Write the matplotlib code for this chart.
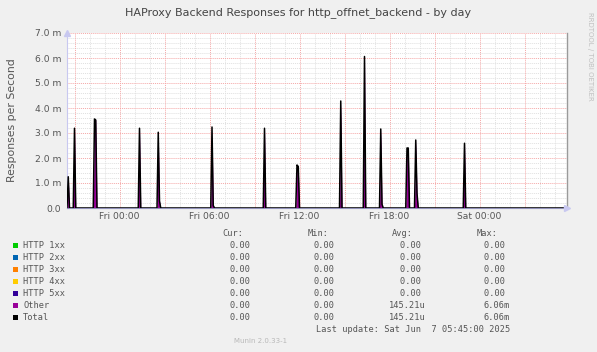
#!/usr/bin/env python3
import matplotlib
matplotlib.use('Agg')
import matplotlib.pyplot as plt
import numpy as np

# hours relative to Fri 00:00, 5 minute samples (values in milli responses/s)
spike_hours = [-3.4167, -3.0, -1.6667, -1.5833, 1.3333, 2.5833, 2.6667,
               6.1667, 6.25, 9.6667, 11.8333, 11.9167, 14.75, 16.3333,
               17.4167, 17.5, 19.1667, 19.25, 19.75, 19.8333, 23.0]
other_vals = [1.25, 3.19, 3.56, 3.52, 3.19, 3.03, 0.28,
              3.24, 0.10, 3.19, 1.72, 1.66, 4.28, 6.06,
              3.16, 0.15, 2.40, 2.40, 2.72, 0.59, 2.59]
total_vals = list(other_vals)

t_start = -3.5
t_end = 29.8333
step = 5.0 / 60.0

xtick_hours = [0, 6, 12, 18, 24]
xtick_labels = ['Fri 00:00', 'Fri 06:00', 'Fri 12:00', 'Fri 18:00', 'Sat 00:00']
ytick_vals = [0, 1, 2, 3, 4, 5, 6, 7]
ytick_labels = ['0.0', '1.0 m', '2.0 m', '3.0 m', '4.0 m', '5.0 m', '6.0 m', '7.0 m']

legend_names = ['HTTP 1xx', 'HTTP 2xx', 'HTTP 3xx', 'HTTP 4xx', 'HTTP 5xx', 'Other', 'Total']
legend_colors = ['#00cc00', '#0066b3', '#ff8000', '#ffcc00', '#330099', '#990099', '#000000']
cur_col = ['0.00'] * 7
min_col = ['0.00'] * 7
avg_col = ['0.00 ', '0.00 ', '0.00 ', '0.00 ', '0.00 ', '145.21u', '145.21u']
max_col = ['0.00 ', '0.00 ', '0.00 ', '0.00 ', '0.00 ', '6.06m', '6.06m']

W, H = 597, 352
fig = plt.figure(figsize=(W / 100, H / 100), dpi=100)
fig.patch.set_facecolor('#f0f0f0')

ax = fig.add_axes([67 / W, (H - 208) / H, 500 / W, 175 / H])
ax.set_facecolor('white')

# series on the 5 minute grid
t = np.arange(t_start, t_end + 1e-6, step)
other = np.zeros_like(t)
total = np.zeros_like(t)
for h, o, tt in zip(spike_hours, other_vals, total_vals):
    i = int(round((h - t_start) / step))
    other[i] = o
    total[i] = tt

# grid
minor_c = '#e0e0e0'
major_c = '#f5a8a8'
dots = (0, (1.0, 1.0))
for hh in np.arange(-3, 30, 1):
    if hh % 3 == 0:
        continue
    ax.axvline(hh, color=minor_c, lw=0.7, ls=dots, zorder=1)
for v in np.arange(0.2, 7.01, 0.2):
    if abs(v - round(v)) < 1e-6:
        continue
    ax.axhline(v, color=minor_c, lw=0.7, ls=dots, zorder=1)
for hh in np.arange(-3, 30, 3):
    ax.axvline(hh, color=major_c, lw=0.7, ls=dots, zorder=1)
for v in range(1, 8):
    ax.axhline(v, color=major_c, lw=0.7, ls=dots, zorder=1)

ax.fill_between(t, 0, other, color='#990099', lw=0, zorder=2)
ax.plot(t, total, color='#000000', lw=1.1, zorder=3)

ax.set_xlim(t_start, t_end)
ax.set_ylim(0, 7.0)
ax.spines['top'].set_visible(False)
ax.spines['right'].set_color('#9a9a9a')
ax.spines['right'].set_linewidth(1.0)
ax.spines['left'].set_color('#c8c8f0')
ax.spines['bottom'].set_color('#9090b8')
ax.spines['left'].set_linewidth(0.8)
ax.spines['bottom'].set_linewidth(0.8)
ax.plot([0], [1.0], marker='^', ms=4, color='#c8c8f0', transform=ax.transAxes,
        clip_on=False, zorder=5)
ax.plot([1.0], [0], marker='>', ms=4, color='#c8c8f0', transform=ax.transAxes,
        clip_on=False, zorder=5)

ax.set_xticks(xtick_hours)
ax.set_xticklabels(xtick_labels)
ax.set_yticks(ytick_vals)
ax.set_yticklabels(ytick_labels)
ax.tick_params(length=0, labelsize=6.6, colors='#555555', pad=4)
ax.tick_params(axis='x', pad=3)

txt = '#555555'
fig.text(298 / W, 1 - 13 / H, 'HAProxy Backend Responses for http_offnet_backend - by day',
         ha='center', va='center', fontsize=8, color='#444444')
fig.text(12 / W, 1 - 120 / H, 'Responses per Second', rotation=90,
         ha='center', va='center', fontsize=7.8, color=txt)
fig.text(590 / W, 1 - 56 / H, 'RRDTOOL / TOBI OETIKER', rotation=270,
         ha='center', va='center', fontsize=5, color='#c0c0c0')

mono = 'DejaVu Sans Mono'
fs = 6.25
header_y = 233.3
for lab, xr in zip(['Cur:', 'Min:', 'Avg:', 'Max:'], [243, 329, 413, 498]):
    fig.text(xr / W, 1 - header_y / H, lab, ha='right', va='center',
             family=mono, fontsize=fs, color=txt)

row_y0 = 245.5
row_dy = 11.95
for k, name in enumerate(legend_names):
    y = row_y0 + k * row_dy
    fig.patches.append(plt.Rectangle((12.5 / W, 1 - (y + 2.5) / H), 5 / W, 5 / H,
                                     transform=fig.transFigure, facecolor=legend_colors[k],
                                     edgecolor='none'))
    fig.text(23 / W, 1 - y / H, name, ha='left', va='center', family=mono,
             fontsize=fs, color=txt)
    fig.text(250 / W, 1 - y / H, cur_col[k], ha='right', va='center', family=mono,
             fontsize=fs, color=txt)
    fig.text(335 / W, 1 - y / H, min_col[k], ha='right', va='center', family=mono,
             fontsize=fs, color=txt)
    fig.text(426 / W, 1 - y / H, avg_col[k], ha='right', va='center', family=mono,
             fontsize=fs, color=txt)
    fig.text(510 / W, 1 - y / H, max_col[k], ha='right', va='center', family=mono,
             fontsize=fs, color=txt)

fig.text(510 / W, 1 - 329.7 / H, 'Last update: Sat Jun  7 05:45:00 2025',
         ha='right', va='center', family=mono, fontsize=fs, color=txt)
fig.text(261 / W, 1 - 341.3 / H, 'Munin 2.0.33-1', ha='center', va='center',
         fontsize=5, color='#b8b8b8')

fig.savefig('out.png', dpi=100, facecolor=fig.get_facecolor())
